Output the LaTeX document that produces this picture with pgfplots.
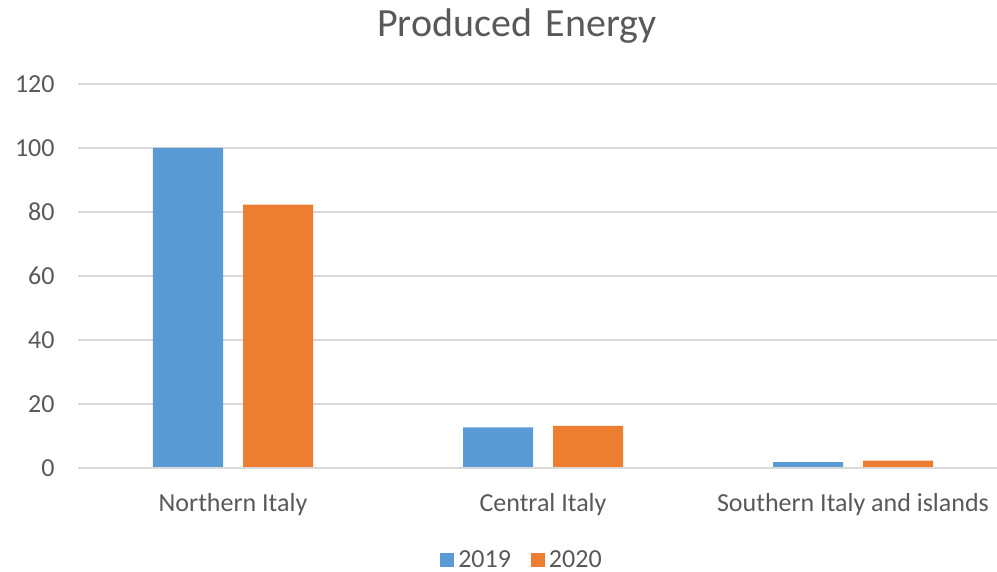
\documentclass[border=0pt]{standalone}
\usepackage{fontspec}
\setmainfont{Carlito}
\usepackage{pgfplots}
\pgfplotsset{compat=1.18}
\definecolor{cblue}{HTML}{5B9BD5}
\definecolor{corange}{HTML}{ED7D31}
\definecolor{txt}{HTML}{595959}
\definecolor{grd}{HTML}{D9D9D9}
\begin{document}
\begin{tikzpicture}
\begin{axis}[
  scale only axis,
  width=459.5pt, height=192pt,
  ybar,
  bar width=35pt,
  xmin=-0.5, xmax=2.4645,
  ymin=0, ymax=120,
  ytick={0,20,...,120},
  xtick=data,
  xticklabels={Northern Italy, Central Italy, Southern Italy and islands},
  axis line style={draw=none},
  major tick style={draw=none},
  ymajorgrids,
  grid style={grd, line width=0.75pt},
  /pgf/number format/assume math mode=true,
  font=\fontsize{13pt}{15pt}\selectfont,
  ticklabel style={text=txt, font=\fontsize{13pt}{15pt}\selectfont},
  yticklabel style={anchor=east, inner sep=0pt, xshift=-11.5pt},
  xticklabel style={anchor=base, inner sep=0pt, yshift=-17.5pt},
  legend style={at={(0.4842,-0.24)}, anchor=center, draw=none, fill=none,
    legend columns=2, text=txt, font=\fontsize{13pt}{15pt}\selectfont,
    /tikz/every even column/.append style={column sep=8pt},
    inner sep=0pt},
  legend image code/.code={\fill[#1] (0pt,-3.5pt) rectangle (7pt,3.5pt);},
  clip=false,
]
\addplot[fill=cblue, draw=none, bar shift=-22.5pt] coordinates {(0,100) (1,12.7) (2,1.8)};
\addplot[fill=corange, draw=none, bar shift=22.5pt] coordinates {(0,82.3) (1,13.2) (2,2.3)};
\legend{2019,2020}
\draw[grd, line width=0.75pt] (rel axis cs:0,0) -- (rel axis cs:1,0);
\node[text=txt, font=\fontsize{20pt}{23pt}\selectfont, anchor=center] at (rel axis cs:0.4777,1.150) {Produced\hspace{0.12em} Energy};
\end{axis}
\pgfresetboundingbox
\useasboundingbox (-39pt,-52pt) rectangle (459.5pt,234pt);
\end{tikzpicture}
\end{document}
